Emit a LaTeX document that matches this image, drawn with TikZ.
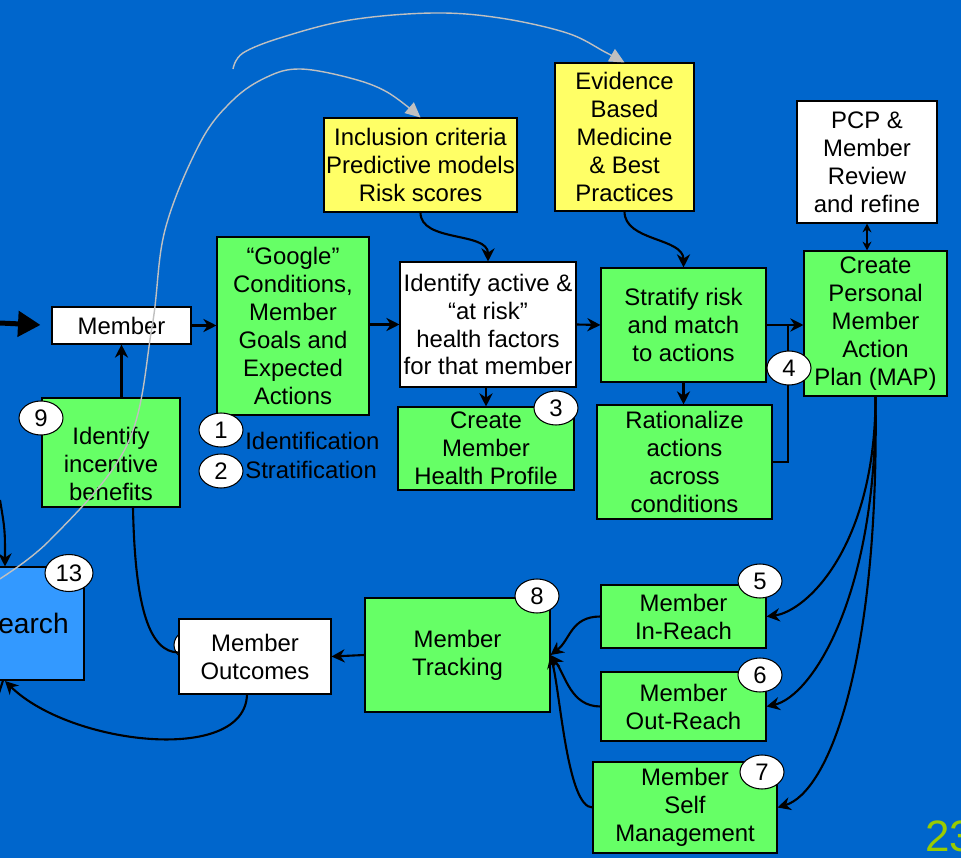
\documentclass[tikz,border=0pt]{standalone}
\usepackage{fontspec}
\setmainfont{Liberation Sans}
\usetikzlibrary{arrows.meta,shapes.geometric}

\definecolor{bgblue}{RGB}{0,102,204}
\definecolor{boxgreen}{RGB}{102,255,102}
\definecolor{boxyellow}{RGB}{255,255,102}
\definecolor{searchblue}{RGB}{51,153,255}
\definecolor{linegray}{RGB}{192,192,192}
\definecolor{pagenum}{RGB}{153,204,0}

\tikzset{
  box/.style={draw, line width=0.6pt, align=center, inner sep=1pt,
    font=\fontsize{13.6}{15.9}\selectfont},
  greenbox/.style={box, fill=boxgreen},
  whitebox/.style={box, fill=white},
  yellowbox/.style={box, fill=boxyellow},
  badge/.style={ellipse, draw, fill=white, line width=0.6pt, inner sep=0pt,
    minimum width=0.88cm, minimum height=0.68cm,
    font=\fontsize{13.6}{15.9}\selectfont},
  arr/.style={line width=1.2pt, -{Stealth[length=7.5pt,width=7.5pt]}},
  link/.style={line width=1.2pt},
  grayarr/.style={draw=linegray, line width=0.8pt,
    -{Triangle[length=0.3cm,width=0.28cm]}},
}

\begin{document}
\begin{tikzpicture}[x=0.02cm, y=-0.02cm]
  \useasboundingbox (0,0) rectangle (961,858);
  \clip (0,0) rectangle (961,858);
  \fill[bgblue] (0,0) rectangle (961,858);

  % boxes
  \node[whitebox, minimum width=2.78cm, minimum height=0.74cm] (member) at (121.5,325.5) {Member};
  \node[greenbox, minimum width=3.04cm, minimum height=3.56cm] (google) at (293,326)
    {“Google”\\Conditions,\\Member\\Goals and\\Expected\\Actions};
  \node[whitebox, minimum width=3.52cm, minimum height=2.5cm] (identify) at (488,324.5)
    {Identify active \&\\“at risk”\\health factors\\for that member};
  \node[yellowbox, minimum width=3.86cm, minimum height=1.88cm] (inclusion) at (420.5,165)
    {Inclusion criteria\\Predictive models\\Risk scores};
  \node[yellowbox, minimum width=2.78cm, minimum height=2.96cm] (evidence) at (624.5,137)
    {Evidence\\Based\\Medicine\\\& Best\\Practices};
  \node[greenbox, minimum width=3.3cm, minimum height=2.28cm] (stratify) at (683.5,325)
    {Stratify risk\\and match\\to actions};
  \node[whitebox, minimum width=2.8cm, minimum height=2.44cm] (pcp) at (867,162)
    {PCP \&\\Member\\Review\\and refine};
  \node[greenbox, minimum width=2.86cm, minimum height=2.9cm] (map) at (875.5,323.5)
    {Create\\Personal\\Member\\Action\\Plan (MAP)};
  \node[greenbox, minimum width=3.52cm, minimum height=1.66cm] (profile) at (486,448.5)
    {Create\\Member\\Health Profile};
  \node[greenbox, minimum width=3.5cm, minimum height=2.28cm] (rational) at (684.5,462)
    {Rationalize\\actions\\across\\conditions};
  \node[greenbox, minimum width=2.76cm, minimum height=2.18cm, text height=55pt] (incentive) at (111,452.5)
    {Identify\\incentive\\benefits};
  \node[box, fill=searchblue, minimum width=3.02cm, minimum height=2.26cm,
    font=\fontsize{16}{19}\selectfont] (research) at (8.5,623.5) {Research};
  \node[badge] (hidden) at (196,645) {};
  \node[whitebox, minimum width=3.04cm, minimum height=1.5cm] (outcomes) at (255,656.5)
    {Member\\Outcomes};
  \node[greenbox, minimum width=3.7cm, minimum height=2.28cm] (tracking) at (457.5,655)
    {Member\\Tracking};
  \node[greenbox, minimum width=3.3cm, minimum height=1.26cm] (inreach) at (683.5,616.5)
    {Member\\In-Reach};
  \node[greenbox, minimum width=3.3cm, minimum height=1.38cm] (outreach) at (683.5,706.5)
    {Member\\Out-Reach};
  \node[greenbox, minimum width=3.68cm, minimum height=1.82cm] (selfman) at (685,807.5)
    {Member\\Self\\Management};

  % free ends
  \coordinate (src) at (0,323);
  \coordinate (join) at (788,325);
  \coordinate (leftin) at (0,500);
  \coordinate (leftout) at (-5,705);
  \coordinate (arcstart) at (233,69);

  % connectors
  \draw[line width=0.1cm, -{Triangle[length=0.45cm,width=0.5cm]}, shorten >=0.22cm] (src) -- (member.west);
  \draw[arr] (member.east) -- (google.west |- member.east);
  \draw[arr] (google.east |- identify.west) -- (identify.west);
  \draw[arr] (identify.east) -- (stratify.west);
  \draw[arr] (stratify.east) -- (map.west |- stratify.east);
  \draw[link] (rational.east) -| (join);
  \draw[arr] (identify.south -| profile.north) -- (profile.north);
  \draw[arr] (stratify.south) -- (stratify.south |- rational.north);
  \draw[arr] (inclusion.south) .. controls +(0,30) and +(0,-30) .. (identify.north);
  \draw[arr] (evidence.south) .. controls +(0,30) and +(0,-30) .. (stratify.north);
  \draw[line width=1.2pt, {Stealth[length=5pt,width=5pt]}-{Stealth[length=5pt,width=5pt]}]
    (pcp.south) -- (pcp.south |- map.north);
  \draw[arr] (incentive.north -| member.south) -- (member.south);
  \draw[link] ([xshift=0.44cm]incentive.south) .. controls (135,610) and (150,652) .. ([yshift=0.08cm]outcomes.west);
  \draw[arr] (tracking.west) -- (outcomes.east);
  \draw[arr] ([xshift=-0.16cm]outcomes.south) .. controls (245,765) and (70,745) .. (5,681);
  \draw[arr] (leftin) .. controls (5,530) .. (research.north -| 5,0);
  \draw[link] (research.south -| 3,0) .. controls (0,690) .. (leftout);
  \draw[arr] (map.south) .. controls +(0,150) and +(40,-5) .. (inreach.east);
  \draw[arr] (map.south) .. controls +(2,200) and +(45,-10) .. (outreach.east);
  \draw[arr] (map.south) .. controls +(4,270) and +(50,-15) .. (selfman.east);
  \draw[arr] (inreach.west) .. controls +(-30,0) and +(20,-15) .. (tracking.east);
  \draw[arr] (outreach.west) .. controls +(-30,0) and +(15,20) .. (tracking.east);
  \draw[arr] (selfman.west) .. controls +(-25,0) and +(10,40) .. (tracking.east);

  % gray loops
  \draw[grayarr] plot[smooth, tension=0.6] coordinates
    {(arcstart) (243,53) (283,37) (350,20) (433,13) (500,18) (567,33) (605,52) (evidence.north)};
  \draw[grayarr] plot[smooth, tension=0.6] coordinates
    {(-10,585) (50,540) (127,445) (152,327) (165,230) (200,143) (233,100) (267,77) (300,69)
     (350,78) (387,92) (inclusion.north)};

  % numbers
  \node[badge] (n1) at (221,430) {1};
  \node[badge] (n2) at (221,471) {2};
  \node[badge] (n3) at (556,408) {3};
  \node[badge] (n4) at (789,368) {4};
  \node[badge] (n5) at (760,581) {5};
  \node[badge] (n6) at (760,675) {6};
  \node[badge] (n7) at (762,772) {7};
  \node[badge] (n8) at (537,596) {8};
  \node[badge] (n9) at (41,418) {9};
  \node[badge, minimum width=0.96cm, minimum height=0.74cm] (n13) at (69,573) {13};

  % labels
  \node[anchor=west, inner sep=0pt, font=\fontsize{13.6}{15.9}\selectfont] (ident) at (245,441) {Identification};
  \node[anchor=west, inner sep=0pt, font=\fontsize{13.6}{15.9}\selectfont] (strat) at (245,470) {Stratification};
  \node[anchor=west, inner sep=0pt, text=pagenum, font=\fontsize{25}{25}\selectfont] (page) at (925,836) {23};
\end{tikzpicture}
\end{document}
